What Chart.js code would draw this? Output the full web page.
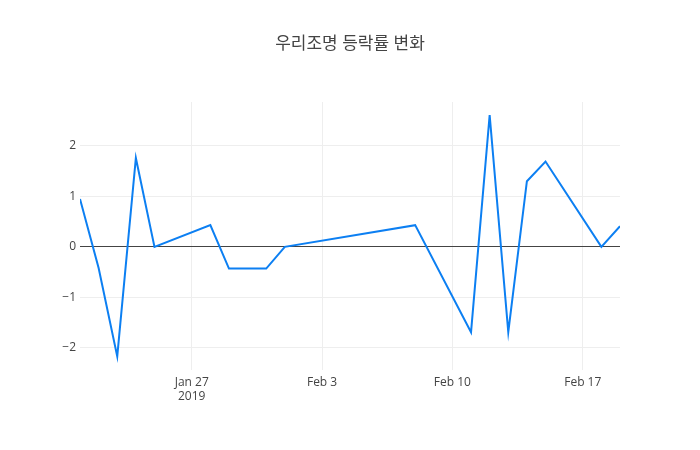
<!DOCTYPE html>
<html>
<head>
<meta charset="utf-8">
<script src="https://cdn.jsdelivr.net/npm/chart.js@4/dist/chart.umd.min.js"></script>
<style>
  html, body { margin: 0; padding: 0; background: #fff; }
  #wrap { width: 700px; height: 450px; }
</style>
</head>
<body>
<div id="wrap"><canvas id="chart" width="700" height="450"></canvas></div>
<script>
// 거래일과 등락률 (%)
const dates = [
  "2019-01-21", "2019-01-22", "2019-01-23", "2019-01-24", "2019-01-25",
  "2019-01-28", "2019-01-29", "2019-01-31", "2019-02-01", "2019-02-08",
  "2019-02-11", "2019-02-12", "2019-02-13", "2019-02-14", "2019-02-15",
  "2019-02-18", "2019-02-19"
];
const changes = [
  0.95, -0.42, -2.17, 1.76, 0,
  0.43, -0.43, -0.43, 0, 0.43,
  -1.69, 2.61, -1.69, 1.30, 1.69,
  0, 0.41
];
const xTickDates = ["2019-01-27", "2019-02-03", "2019-02-10", "2019-02-17"];
const yTicks = [-2, -1, 0, 1, 2];
const titleText = "우리조명 등락률 변화";

const DAY = 86400000;
const MONTHS = ["Jan","Feb","Mar","Apr","May","Jun","Jul","Aug","Sep","Oct","Nov","Dec"];
function toDay(s) {
  const p = s.split("-").map(Number);
  return Date.UTC(p[0], p[1] - 1, p[2]) / DAY;
}
function dayLabel(d, first) {
  const dt = new Date(d * DAY);
  const txt = MONTHS[dt.getUTCMonth()] + " " + dt.getUTCDate();
  return first ? [txt, String(dt.getUTCFullYear())] : txt;
}

const points = dates.map((d, i) => ({ x: toDay(d), y: changes[i] }));
const xTickVals = xTickDates.map(toDay);
const FONT = "'Open Sans', 'Noto Sans CJK KR', sans-serif";

// 제목은 plotly처럼 고정 위치에 그림
const titlePlugin = {
  id: "titlePlugin",
  afterDraw(chart) {
    const ctx = chart.ctx;
    ctx.save();
    ctx.font = "17px " + FONT;
    ctx.fillStyle = "#444";
    ctx.textAlign = "center";
    ctx.textBaseline = "middle";
    ctx.fillText(titleText, 350, 44);
    ctx.restore();
  }
};

new Chart(document.getElementById("chart").getContext("2d"), {
  type: "line",
  data: {
    datasets: [{
      label: titleText,
      data: points,
      borderColor: "#0c7ff2",
      borderWidth: 2,
      pointRadius: 0,
      tension: 0,
      fill: false
    }]
  },
  plugins: [titlePlugin],
  options: {
    responsive: false,
    animation: false,
    layout: { padding: { top: 102, right: 80, left: 0, bottom: 0 } },
    plugins: {
      legend: { display: false },
      title: { display: false },
      tooltip: { enabled: false }
    },
    scales: {
      x: {
        type: "linear",
        min: toDay(dates[0]),
        max: toDay(dates[dates.length - 1]),
        afterBuildTicks: axis => { axis.ticks = xTickVals.map(v => ({ value: v })); },
        afterFit: axis => { axis.height = 80; },
        border: { display: false },
        grid: { color: "#eee", lineWidth: 1, drawTicks: false },
        ticks: {
          padding: 5,
          color: "#444",
          font: { family: FONT, size: 12 },
          maxRotation: 0,
          callback: (v) => dayLabel(v, v === xTickVals[0])
        }
      },
      y: {
        min: -2.44,
        max: 2.87,
        afterBuildTicks: axis => { axis.ticks = yTicks.map(v => ({ value: v })); },
        afterFit: axis => { axis.width = 80; },
        border: { display: false },
        grid: {
          drawTicks: false,
          color: ctx => ctx.tick && ctx.tick.value === 0 ? "#444" : "#eee",
          lineWidth: 1
        },
        ticks: {
          padding: 4,
          color: "#444",
          font: { family: FONT, size: 12 },
          callback: v => String(v).replace("-", "\u2212")
        }
      }
    }
  }
});
</script>
</body>
</html>
